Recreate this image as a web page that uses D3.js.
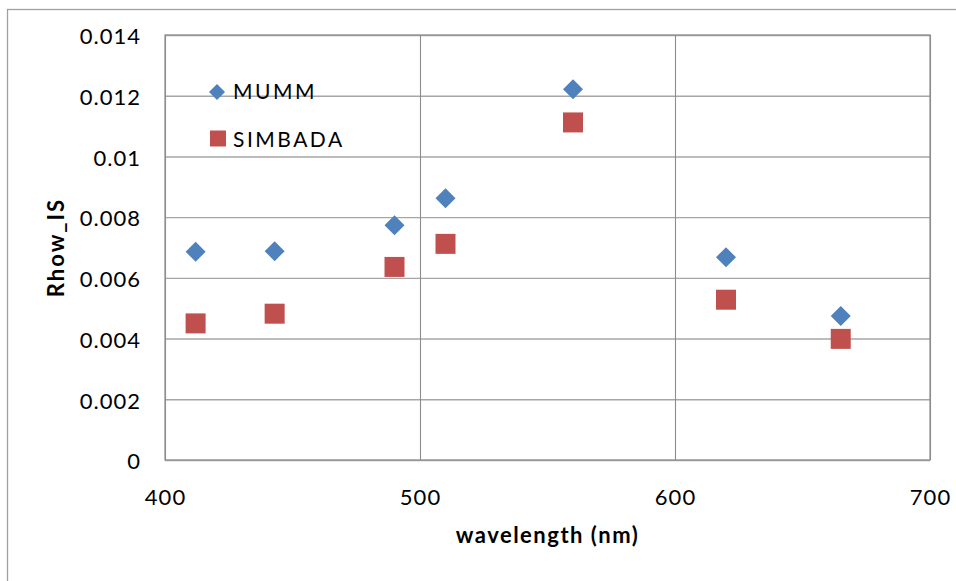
<!DOCTYPE html>
<html>
<head>
<meta charset="utf-8">
<script src="https://cdn.jsdelivr.net/npm/d3@7"></script>
<style>
  body { margin: 0; background: #fff; }
  text { font-family: Lato, "Open Sans", sans-serif; fill: #000; }
  .tick text { font-size: 22px; letter-spacing: 1px; }
  .axisTitle { font-size: 22px; font-weight: bold; }
  .legendText { font-size: 21px; letter-spacing: 2.5px; }
</style>
</head>
<body>
<div id="chart"></div>
<script>
// values
var wavelengths = [412, 443, 490, 510, 560, 620, 665];
var mumm = [0.00686, 0.00688, 0.00773, 0.00862, 0.01221, 0.00668, 0.00474];
var simbada = [0.00450, 0.00482, 0.00636, 0.00712, 0.01112, 0.00528, 0.00399];

var xTicks = [400, 500, 600, 700];
var yTicks = [0, 0.002, 0.004, 0.006, 0.008, 0.01, 0.012, 0.014];
var yTickLabels = ["0", "0.002", "0.004", "0.006", "0.008", "0.01", "0.012", "0.014"];
var seriesNames = ["MUMM", "SIMBADA"];

var svgWidth = 956;
var svgHeight = 581;

// plot area
var margin = { top: 35, right: 26, bottom: 121, left: 165 };
var width = svgWidth - margin.left - margin.right;
var height = svgHeight - margin.top - margin.bottom;

var blue = "#4F81BD";
var red = "#C0504D";

var svg = d3.select("#chart")
  .append("svg")
  .attr("width", svgWidth)
  .attr("height", svgHeight);

// outer chart border (runs off the right and bottom edges)
svg.append("rect")
  .attr("x", 7.5)
  .attr("y", 9.5)
  .attr("width", svgWidth + 10)
  .attr("height", svgHeight + 10)
  .attr("fill", "none")
  .attr("stroke", "#a0a0a0")
  .attr("stroke-width", 1.3);

var chart = svg.append("g")
  .attr("transform", `translate(${margin.left}, ${margin.top})`);

var xScale = d3.scaleLinear().domain([400, 700]).range([0, width]);
var yScale = d3.scaleLinear().domain([0, 0.014]).range([height, 0]);

// y axis + horizontal gridlines
var yAxis = chart.append("g")
  .call(d3.axisLeft(yScale)
    .tickValues(yTicks)
    .tickFormat((d, i) => yTickLabels[i])
    .tickSize(-width)
    .tickPadding(24));
yAxis.select(".domain").remove();
yAxis.selectAll(".tick line").attr("stroke", "#a6a6a6").attr("stroke-width", 1.4);
yAxis.selectAll(".tick text").attr("dy", "0.4em").style("font-family", "Lato, sans-serif").style("font-size", "22px");

// x axis + vertical gridlines
var xAxis = chart.append("g")
  .attr("transform", `translate(0, ${height})`)
  .call(d3.axisBottom(xScale)
    .tickValues(xTicks)
    .tickFormat(d3.format("d"))
    .tickSize(-height)
    .tickPadding(29));
xAxis.select(".domain").remove();
xAxis.selectAll(".tick line").attr("stroke", "#8c8c8c").attr("stroke-width", 1.1);
xAxis.selectAll(".tick text").style("font-family", "Lato, sans-serif").style("font-size", "22px");

// plot border
chart.append("rect")
  .attr("width", width)
  .attr("height", height)
  .attr("fill", "none")
  .attr("stroke", "#8c8c8c")
  .attr("stroke-width", 1.2);

// points
var diamond = d3.symbol().type(d3.symbolSquare).size(200);
var square = d3.symbol().type(d3.symbolSquare).size(400);

chart.selectAll(".simbada")
  .data(wavelengths)
  .enter().append("path")
  .attr("class", "simbada")
  .attr("d", square)
  .attr("transform", (d, i) => `translate(${xScale(d)}, ${yScale(simbada[i])})`)
  .attr("fill", red);

chart.selectAll(".mumm")
  .data(wavelengths)
  .enter().append("path")
  .attr("class", "mumm")
  .attr("d", diamond)
  .attr("transform", (d, i) => `translate(${xScale(d)}, ${yScale(mumm[i])}) rotate(45)`)
  .attr("fill", blue);

// legend
var legend = svg.append("g").attr("transform", "translate(217, 92)");
legend.append("path")
  .attr("d", d3.symbol().type(d3.symbolSquare).size(128))
  .attr("transform", "rotate(45)")
  .attr("fill", blue);
legend.append("text")
  .attr("class", "legendText")
  .attr("x", 16)
  .attr("y", 6.5)
  .text(seriesNames[0]);
legend.append("path")
  .attr("d", d3.symbol().type(d3.symbolSquare).size(256))
  .attr("transform", "translate(1, 46.5)")
  .attr("fill", red);
legend.append("text")
  .attr("class", "legendText")
  .attr("x", 16)
  .attr("y", 55)
  .text(seriesNames[1]);

// axis titles
svg.append("text")
  .attr("class", "axisTitle")
  .attr("transform", `translate(64, ${margin.top + height / 2}) rotate(-90)`)
  .attr("text-anchor", "middle")
  .style("letter-spacing", "2px")
  .text("Rhow_IS");

svg.append("text")
  .attr("class", "axisTitle")
  .attr("x", margin.left + width / 2)
  .attr("y", 543)
  .attr("text-anchor", "middle")
  .style("letter-spacing", "1.5px")
  .text("wavelength (nm)");
</script>
</body>
</html>
